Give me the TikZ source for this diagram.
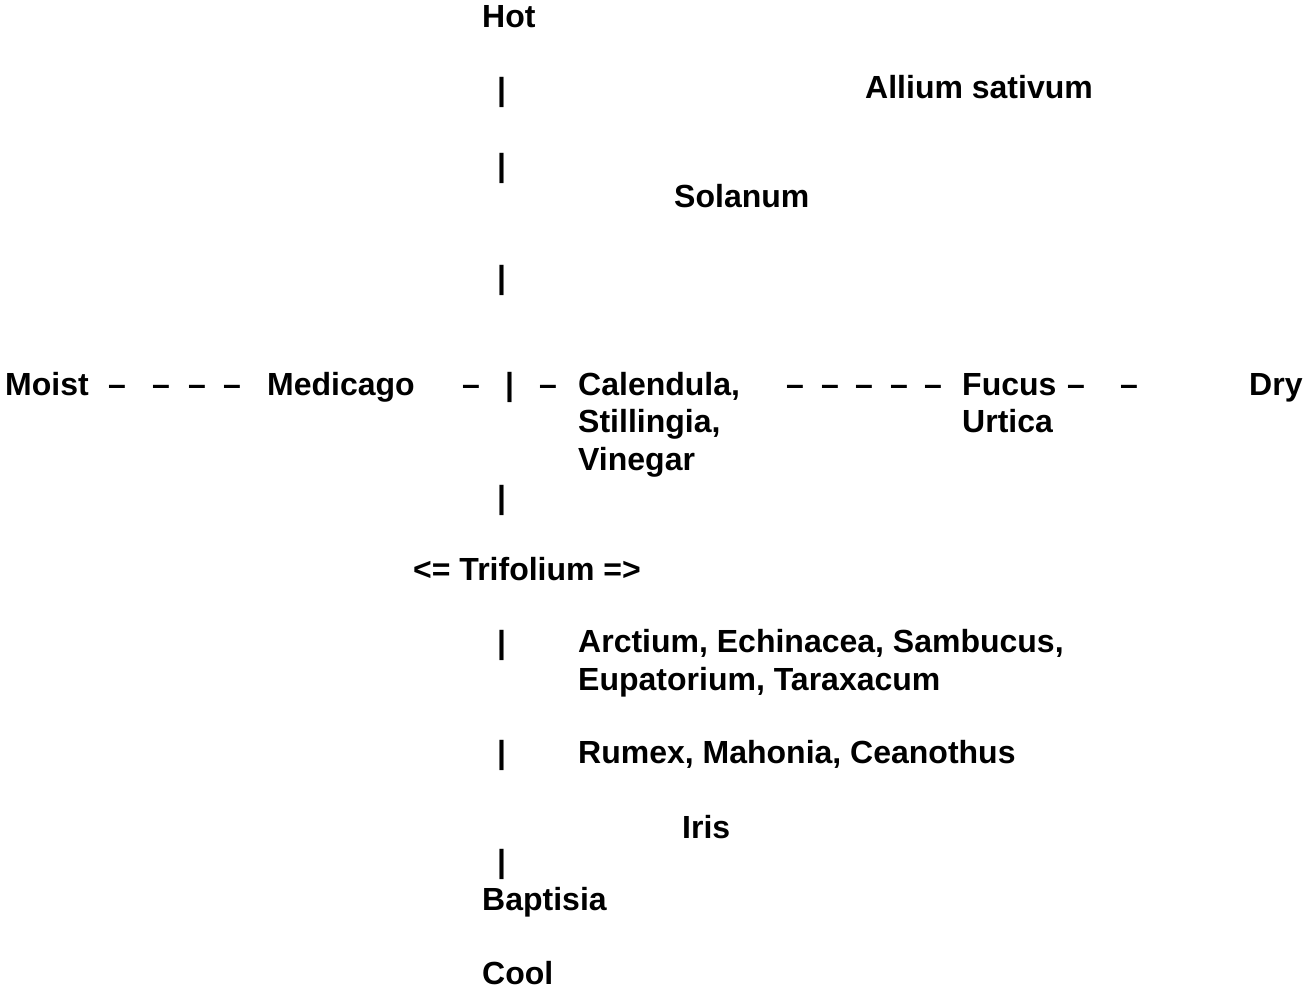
\documentclass[tikz,border=0pt]{standalone}
\usepackage{fontspec}
\setmainfont{Liberation Sans}
\tikzset{
  lbl/.style={inner sep=0pt, anchor=base west, font=\fontsize{32}{37.5}\selectfont\bfseries, align=left},
}
\begin{document}
\begin{tikzpicture}[x=1pt,y=-1pt]
\useasboundingbox (0,0) rectangle (1305,989);
% hot / cool axis
\node[lbl] (hot) at (482,27) {Hot};
\node[lbl] (bar1) at (497,100) {|};
\node[lbl] (allium) at (865,98) {Allium sativum};
\node[lbl] (bar2) at (497,176) {|};
\node[lbl] (solanum) at (674,207) {Solanum};
\node[lbl] (bar3) at (497,288) {|};
% moist / dry axis (multi-line nodes sit on their last line)
\node[lbl] (moist) at (5,395) {Moist};
\foreach \x [count=\i] in {108,152,188,223}
  \node[lbl] (ldash\i) at (\x,395) {–};
\node[lbl] (medicago) at (267,395) {Medicago};
\node[lbl] (cdash1) at (462,395) {–};
\node[lbl] (cbar) at (505,395) {|};
\node[lbl] (cdash2) at (539,395) {–};
\node[lbl] (calendula) at (578,470) {Calendula,\\Stillingia,\\Vinegar};
\foreach \x [count=\i] in {786,821,855,890,924}
  \node[lbl] (rdash\i) at (\x,395) {–};
\node[lbl] (fucus) at (962,432.5) {Fucus\\Urtica};
\node[lbl] (fdash1) at (1067,395) {–};
\node[lbl] (fdash2) at (1120,395) {–};
\node[lbl] (dry) at (1249,395) {Dry};
% lower half
\node[lbl] (bar4) at (497,508) {|};
\node[lbl] (trifolium) at (413,580) {<= Trifolium =>};
\node[lbl] (bar5) at (497,653) {|};
\node[lbl] (arctium) at (578,690) {Arctium, Echinacea, Sambucus,\\Eupatorium, Taraxacum};
\node[lbl] (bar6) at (497,763) {|};
\node[lbl] (rumex) at (578,763) {Rumex, Mahonia, Ceanothus};
\node[lbl] (iris) at (682,838) {Iris};
\node[lbl] (bar7) at (497,872) {|};
\node[lbl] (baptisia) at (482,910) {Baptisia};
\node[lbl] (cool) at (482,984) {Cool};
\end{tikzpicture}
\end{document}
